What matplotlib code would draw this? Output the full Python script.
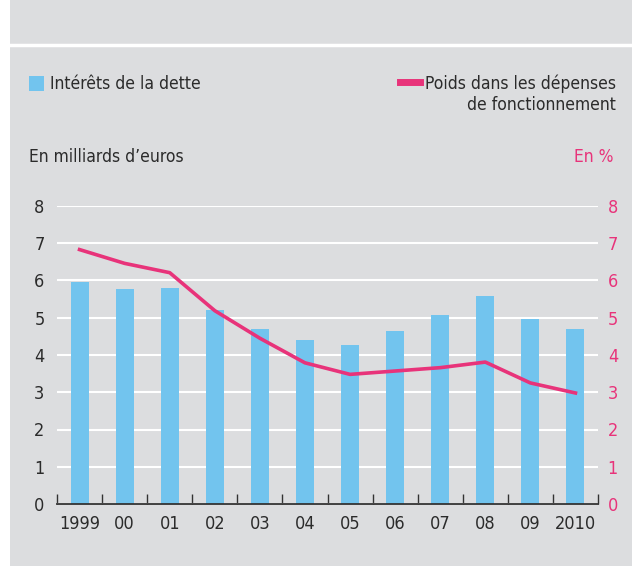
import matplotlib.pyplot as plt
from matplotlib import font_manager
from matplotlib.patches import Rectangle
from matplotlib.lines import Line2D
import numpy as np

# Police étroite si disponible
noms = {f.name for f in font_manager.fontManager.ttflist}
etroites = [f for f in font_manager.fontManager.ttflist
            if f.name == 'DejaVu Sans' and f.stretch == 'condensed']
if 'Liberation Sans Narrow' in noms:
    plt.rcParams['font.family'] = ['Liberation Sans Narrow', 'DejaVu Sans']
elif etroites:
    plt.rcParams['font.family'] = ['DejaVu Sans']
    plt.rcParams['font.stretch'] = 'condensed'

# Données
annees = ['1999', '00', '01', '02', '03', '04', '05', '06', '07', '08', '09', '2010']
interets = [5.97, 5.77, 5.79, 5.22, 4.70, 4.41, 4.27, 4.65, 5.08, 5.59, 4.97, 4.70]
poids = [6.83, 6.46, 6.21, 5.19, 4.45, 3.79, 3.48, 3.57, 3.66, 3.81, 3.25, 2.98]
graduations = [0, 1, 2, 3, 4, 5, 6, 7, 8]

W, H = 632, 566
fond = '#dcdddf'
bleu = '#72c4ee'
rose = '#e8337a'
texte = '#2b2b2b'
taille = 12.5

fig = plt.figure(figsize=(W / 100, H / 100), dpi=100, facecolor='white')

def fx(px):
    return px / W

def fy(py):
    return 1 - py / H

# Cadre gris et filet blanc
fig.patches.append(Rectangle((fx(10), 0), 1 - fx(10), 1, transform=fig.transFigure,
                             facecolor=fond, edgecolor='none', zorder=-10))
fig.lines.append(Line2D([fx(10), 1], [fy(45), fy(45)], transform=fig.transFigure,
                        color='white', lw=2.5, zorder=-5))

ax = fig.add_axes([fx(57), fy(504), fx(598) - fx(57), fy(206) - fy(504)])
ax.set_facecolor('none')
x = np.arange(len(annees))
ax.bar(x, interets, width=0.4, color=bleu, zorder=3)
ax.set_xlim(-0.5, len(annees) - 0.5)
ax.set_ylim(0, 8)
ax.set_yticks(graduations)
ax.yaxis.grid(True, color='white', lw=1.5, zorder=0)
ax.set_axisbelow(True)
for s in ['top', 'right', 'left']:
    ax.spines[s].set_visible(False)
ax.spines['bottom'].set_color('#333333')
ax.spines['bottom'].set_linewidth(1.3)
ax.spines['bottom'].set_zorder(5)
ax.set_xticks(x)
ax.set_xticklabels(annees, fontsize=taille + 0.5, color=texte)
ax.set_xticks(np.arange(-0.5, len(annees)), minor=True)
ax.tick_params(axis='x', which='major', length=0, pad=8)
ax.tick_params(axis='x', which='minor', direction='in', length=7, width=1, color='#333333')
ax.tick_params(axis='y', length=0, labelsize=taille + 0.5, labelcolor=texte, pad=9)

ax2 = ax.twinx()
ax2.plot(x, poids, color=rose, lw=2.6, zorder=4)
ax2.set_ylim(0, 8)
ax2.set_yticks(graduations)
ax2.tick_params(axis='y', length=0, labelsize=taille + 0.5, labelcolor=rose, pad=7)
for s in ax2.spines.values():
    s.set_visible(False)

# Légende et titres d'axes
fig.patches.append(Rectangle((fx(29), fy(91)), fx(15), 15 / H, transform=fig.transFigure,
                             facecolor=bleu, edgecolor='none'))
fig.text(fx(50), fy(84), 'Intérêts de la dette', fontsize=taille, color=texte, va='center')
fig.lines.append(Line2D([fx(400), fx(420)], [fy(82), fy(82)], transform=fig.transFigure,
                        color=rose, lw=5))
fig.text(fx(616), fy(84), 'Poids dans les dépenses', fontsize=taille, color=texte,
         va='center', ha='right')
fig.text(fx(616), fy(105), 'de fonctionnement', fontsize=taille, color=texte,
         va='center', ha='right')
fig.text(fx(29), fy(157), 'En milliards d\u2019euros', fontsize=taille, color=texte, va='center')
fig.text(fx(614), fy(157), 'En %', fontsize=taille, color=rose, va='center', ha='right')

fig.savefig('out.png', dpi=100, facecolor=fig.get_facecolor())
